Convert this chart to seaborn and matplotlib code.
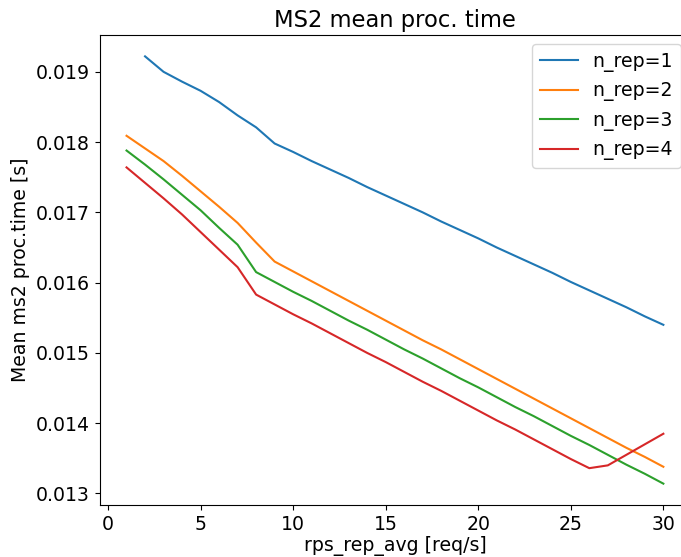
import numpy as np
import pandas as pd
import matplotlib
matplotlib.use("Agg")
import matplotlib.pyplot as plt
import seaborn as sns

x_rep1 = list(range(2, 31))
y_rep1 = [0.01922, 0.01900, 0.01886, 0.01873, 0.01857, 0.01838, 0.01821, 0.01798,
          0.01786, 0.01773, 0.01761, 0.01749, 0.01736, 0.01724, 0.01712, 0.01700,
          0.01687, 0.01675, 0.01663, 0.01650, 0.01638, 0.01626, 0.01614, 0.01601,
          0.01589, 0.01577, 0.01565, 0.01552, 0.01540]

x_rep = list(range(1, 31))
y_rep2 = [0.01809, 0.01791, 0.01773, 0.01752, 0.01730, 0.01708, 0.01685, 0.01657,
          0.01630, 0.01616, 0.01602, 0.01588, 0.01574, 0.01560, 0.01546, 0.01532,
          0.01518, 0.01505, 0.01491, 0.01477, 0.01463, 0.01449, 0.01435, 0.01421,
          0.01407, 0.01393, 0.01379, 0.01365, 0.01352, 0.01338]
y_rep3 = [0.01788, 0.01768, 0.01747, 0.01725, 0.01703, 0.01678, 0.01654, 0.01615,
          0.01601, 0.01587, 0.01574, 0.01560, 0.01546, 0.01533, 0.01519, 0.01505,
          0.01492, 0.01478, 0.01464, 0.01451, 0.01437, 0.01423, 0.01410, 0.01396,
          0.01382, 0.01369, 0.01355, 0.01341, 0.01328, 0.01314]
y_rep4 = [0.01764, 0.01742, 0.01720, 0.01697, 0.01672, 0.01647, 0.01622, 0.01583,
          0.01569, 0.01555, 0.01542, 0.01528, 0.01514, 0.01500, 0.01487, 0.01473,
          0.01459, 0.01446, 0.01432, 0.01418, 0.01404, 0.01391, 0.01377, 0.01363,
          0.01349, 0.01336, 0.01340, 0.01355, 0.01370, 0.01385]

labels = ["n_rep=1", "n_rep=2", "n_rep=3", "n_rep=4"]

frames = []
for lab, xs, ys in [(labels[0], x_rep1, y_rep1), (labels[1], x_rep, y_rep2),
                    (labels[2], x_rep, y_rep3), (labels[3], x_rep, y_rep4)]:
    frames.append(pd.DataFrame({"x": xs, "y": ys, "series": lab}))
df = pd.concat(frames, ignore_index=True)

plt.rcParams["font.family"] = ["DejaVu Sans"]
plt.rcParams["font.size"] = 13.6
fig = plt.figure(figsize=(6.81, 5.57), dpi=100)
ax = fig.add_axes([99.7 / 681, 52 / 557, 590.5 / 681, 470 / 557])

palette = ["#1f77b4", "#ff7f0e", "#2ca02c", "#d62728"]
sns.lineplot(data=df, x="x", y="y", hue="series", hue_order=labels,
             palette=palette, ax=ax, linewidth=1.5)

ax.set_title("MS2 mean proc. time")
ax.set_xlabel("rps_rep_avg [req/s]", labelpad=2)
ax.set_ylabel("Mean ms2 proc.time [s]")
ax.set_xticks([0, 5, 10, 15, 20, 25, 30])
ax.set_yticks([0.013, 0.014, 0.015, 0.016, 0.017, 0.018, 0.019])
ax.set_yticklabels(["0.013", "0.014", "0.015", "0.016", "0.017", "0.018", "0.019"])

h, l = ax.get_legend_handles_labels()
ax.legend(h, l, loc="upper right")

fig.savefig("out.png", dpi=100)
